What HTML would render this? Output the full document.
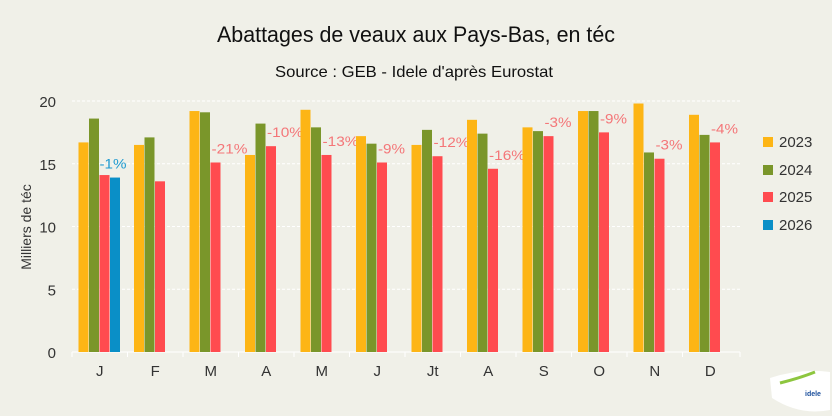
<!DOCTYPE html>
<html><head><meta charset="utf-8"><style>
html,body{margin:0;padding:0;background:#F0F0E8;}
svg{display:block;font-family:"Liberation Sans",sans-serif;}
</style></head><body>
<svg id="c" width="832" height="416" viewBox="0 0 832 416" xmlns="http://www.w3.org/2000/svg">
<rect width="832" height="416" fill="#F0F0E8"/>
<text x="416" y="42" text-anchor="middle" font-size="22" fill="#111" textLength="398" lengthAdjust="spacingAndGlyphs">Abattages de veaux aux Pays-Bas, en téc</text>
<text x="414" y="77" text-anchor="middle" font-size="16" fill="#111" textLength="278" lengthAdjust="spacingAndGlyphs">Source : GEB - Idele d'après Eurostat</text>
<g id="g"></g>
<text transform="translate(31,227) rotate(-90)" text-anchor="middle" font-size="14" fill="#333">Milliers de téc</text>
<g font-size="15" fill="#333">
<rect x="763" y="137" width="10" height="10" fill="#FDB515"/><text x="779" y="147">2023</text>
<rect x="763" y="165" width="10" height="10" fill="#7A962A"/><text x="779" y="175">2024</text>
<rect x="763" y="192" width="10" height="10" fill="#FF4B4F"/><text x="779" y="202">2025</text>
<rect x="763" y="220" width="10" height="10" fill="#0A8FC7"/><text x="779" y="230">2026</text>
</g>
<path d="M770 378 Q800 368 830 372 L830 410 Q800 416 772 398 Z" fill="#fff"/>
<path d="M780 383 Q800 378 815 372" stroke="#8DC63F" stroke-width="3" fill="none"/>
<text x="805" y="396" font-size="7" font-weight="bold" fill="#1B4F9C">idele</text>
</svg>
<script>
var g=document.getElementById('g'),ns="http://www.w3.org/2000/svg";
function el(t,a,txt){var e=document.createElementNS(ns,t);for(var k in a)e.setAttribute(k,a[k]);if(txt)e.textContent=txt;g.appendChild(e);return e;}
var y0=352,s=12.55,x0=72,cw=55.5;
for(var v=0;v<=20;v+=5){var y=y0-v*s;
 if(v>0)el('line',{x1:x0,x2:740,y1:y,y2:y,stroke:'#fff','stroke-dasharray':'3,2','stroke-width':1});
 el('text',{x:56,y:y+6,'text-anchor':'end','font-size':15,fill:'#333'},''+v);}
el('line',{x1:x0,x2:740,y1:y0,y2:y0,stroke:'#fff','stroke-width':1});
var cols=['#FDB515','#7A962A','#FF4B4F','#0A8FC7'];
var m=['J','F','M','A','M','J','Jt','A','S','O','N','D'];
var d=[[16.7,18.6,14.1,13.9],[16.5,17.1,13.6],[19.2,19.1,15.1],[15.7,18.2,16.4],[19.3,17.9,15.7],[17.2,16.6,15.1],[16.5,17.7,15.6],[18.5,17.4,14.6],[17.9,17.6,17.2],[19.2,19.2,17.5],[19.8,15.9,15.4],[18.9,17.3,16.7]];
var lb=['-1%','','-21%','-10%','-13%','-9%','-12%','-16%','-3%','-9%','-3%','-4%'];
for(var i=0;i<12;i++){var cx=x0+cw*i,bs=cx+6.5;
 el('line',{x1:cx,x2:cx,y1:y0,y2:y0+5,stroke:'#fff'});
 el('text',{x:cx+cw/2,y:y0+24,'text-anchor':'middle','font-size':15,fill:'#333'},m[i]);
 for(var j=0;j<d[i].length;j++){var h=d[i][j]*s;el('rect',{x:bs+j*10.5,y:y0-h,width:10,height:h,fill:cols[j]});}
 if(lb[i]){var last=d[i][d[i].length-1];
  el('text',{x:bs+21+(i==0?0:1),y:y0-last*s-9,'font-size':14,fill:i==0?'#1E9AD0':'#F47678','text-anchor':'start',textLength:lb[i].length*9,lengthAdjust:'spacingAndGlyphs'},lb[i]);}
}
el('line',{x1:740,x2:740,y1:y0,y2:y0+5,stroke:'#fff'});
</script>
</body></html>
